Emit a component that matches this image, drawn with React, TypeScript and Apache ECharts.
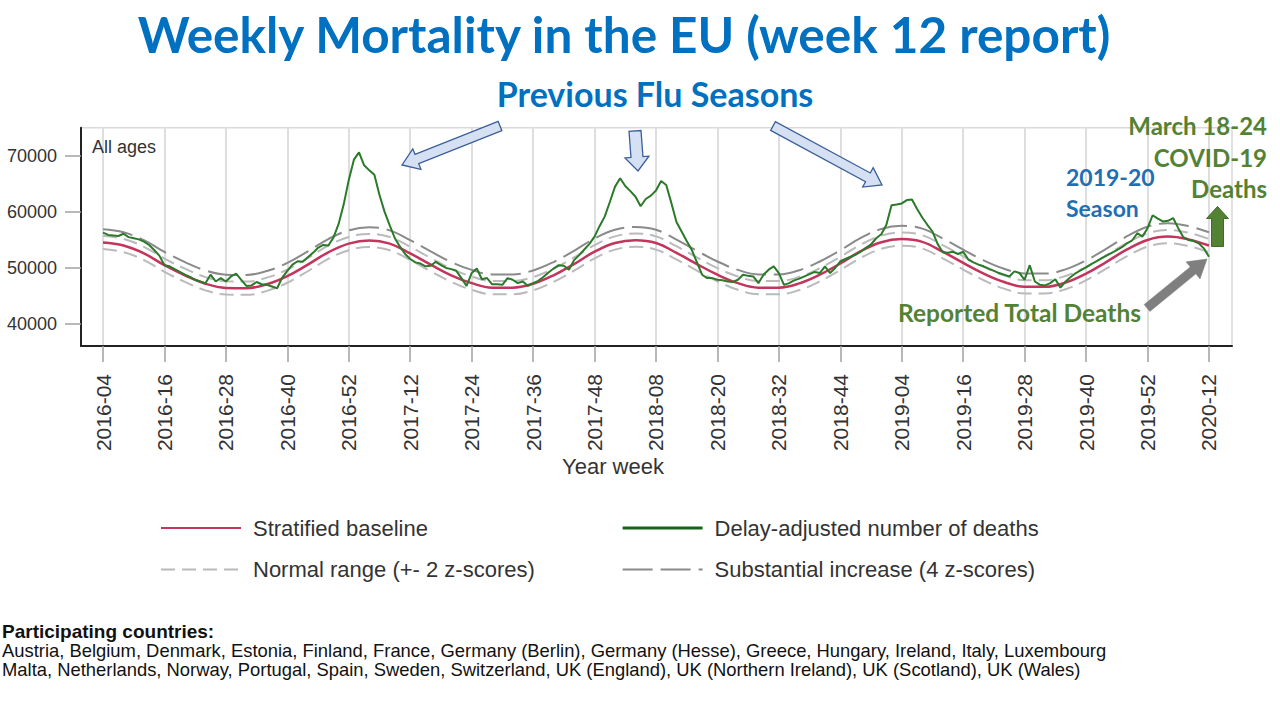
import React, { useEffect, useRef } from "react";
import * as echarts from "echarts";

// ---- data ----
const tickLabels = [
  "2016-04", "2016-16", "2016-28", "2016-40", "2016-52", "2017-12", "2017-24",
  "2017-36", "2017-48", "2018-08", "2018-20", "2018-32", "2018-44", "2019-04",
  "2019-16", "2019-28", "2019-40", "2019-52", "2020-12",
];
const WEEKS_PER_TICK = 12;

// weekly delay-adjusted deaths, 2016-04 .. 2020-12
const deaths = [
  56300, 55900, 55800, 55700, 56100, 55500, 55300, 55100, 54700, 54100, 53200, 52200,
  50500, 50300, 49800, 49300, 48800, 48400, 47900, 47600, 47300, 48800, 47600, 48200,
  47600, 48500, 49000, 47900, 46800, 46900, 47500, 47100, 47000, 46700, 46400, 48300,
  49500, 50600, 51200, 51100, 51900, 52700, 53600, 54100, 54000, 55400, 57800, 61300,
  65700, 69300, 70600, 68300, 67400, 66600, 63000, 60000, 57600, 55300, 53800, 52500,
  51600, 51000, 50800, 50300, 50400, 51100, 50500, 50000, 49800, 49500, 48200, 46800,
  49100, 49900, 48000, 48200, 47100, 47100, 47000, 48200, 47900, 47300, 47600, 46800,
  47300, 47700, 48400, 49200, 49900, 50500, 50400, 49700, 51400, 52300, 53300, 54300,
  55600, 57500, 59200, 61800, 64500, 66000, 64600, 63700, 62700, 61000, 62300, 62900,
  63800, 65500, 64800, 61600, 58200, 56500, 54800, 53200, 51000, 48800, 48200, 48200,
  47900, 47800, 47600, 47500, 47900, 48800, 48600, 48500, 47300, 48800, 49700, 50300,
  49100, 47000, 47300, 47800, 48100, 48500, 48900, 49300, 49100, 50300, 49100, 50000,
  51200, 51600, 52000, 52400, 52900, 53600, 54200, 55300, 56000, 57700, 61200, 61300,
  61500, 62100, 62200, 60500, 59000, 57700, 56500, 54300, 52800, 52700, 52900, 52500,
  52900, 51500, 51000, 50600, 50300, 49900, 49500, 49100, 48800, 48500, 49400, 49100,
  47900, 50500, 47600, 47000, 46900, 47300, 48000, 46500, 47600, 48400, 49100, 49600,
  50100, 50700, 51200, 51700, 52200, 52700, 53200, 53700, 54400, 54900, 56200, 55600,
  57100, 59400, 58800, 58300, 58400, 58900, 57100, 55500, 55000, 54800, 54400, 53500,
  52000,
];

// stratified baseline, read every 4 weeks from 2016-04
const BASELINE_STEP = 4;
const baseline = [
  54550, 54000, 52600, 50500, 48700, 47200, 46450, 46400, 47100, 48550, 50600, 52800, 54350,
  54900, 54350, 52600, 50600, 48700, 47300, 46500, 46500, 47200, 48700, 50700, 52900, 54450,
  54950, 54450, 52700, 50700, 48800, 47300, 46500, 46500, 47250, 48800, 50800, 53000, 54600,
  55150, 54650, 52900, 50900, 49000, 47500, 46650, 46650, 47400, 49000, 51100, 53300, 55000,
  55600, 55100, 54000,
];
const zScore = 590; // deaths per z-score

const yTickValues = [40000, 50000, 60000, 70000];

const legendLeft = ["Stratified baseline", "Normal range (+- 2 z-scores)"];
const legendRight = ["Delay-adjusted number of deaths", "Substantial increase (4 z-scores)"];

const countryLines = [
  "Austria, Belgium, Denmark, Estonia, Finland, France, Germany (Berlin), Germany (Hesse), Greece, Hungary, Ireland, Italy, Luxembourg",
  "Malta, Netherlands, Norway, Portugal, Spain, Sweden, Switzerland, UK (England), UK (Northern Ireland), UK (Scotland), UK (Wales)",
];

// ---- helpers for annotation shapes ----
function blockArrow(
  tail: [number, number],
  tip: [number, number],
  shaftHalf: number,
  headHalf: number,
  headLen: number
) {
  const dx = tip[0] - tail[0];
  const dy = tip[1] - tail[1];
  const len = Math.sqrt(dx * dx + dy * dy);
  const ux = dx / len;
  const uy = dy / len;
  const nx = -uy;
  const ny = ux;
  const hx = tip[0] - ux * headLen;
  const hy = tip[1] - uy * headLen;
  return [
    [tail[0] + nx * shaftHalf, tail[1] + ny * shaftHalf],
    [hx + nx * shaftHalf, hy + ny * shaftHalf],
    [hx + nx * headHalf, hy + ny * headHalf],
    [tip[0], tip[1]],
    [hx - nx * headHalf, hy - ny * headHalf],
    [hx - nx * shaftHalf, hy - ny * shaftHalf],
    [tail[0] - nx * shaftHalf, tail[1] - ny * shaftHalf],
  ];
}

const ANNOT_FONT = "Lato, 'Open Sans', sans-serif";
const CHART_FONT = "'Liberation Sans', Arial, sans-serif";

function txt(
  text: string,
  x: number,
  y: number,
  size: number,
  fill: string,
  align: string,
  bold: boolean,
  family: string
) {
  return {
    type: "text",
    x,
    y,
    z: 100,
    style: {
      text,
      fill,
      fontSize: size,
      fontWeight: bold ? "bold" : "normal",
      fontFamily: family,
      align,
      verticalAlign: "middle",
    },
  };
}

export default function App() {
  const ref = useRef<HTMLDivElement>(null);

  useEffect(() => {
    if (!ref.current) return;
    const chart = echarts.init(ref.current, undefined, { renderer: "svg" });

    const tickValues = tickLabels.map((_, k) => k * WEEKS_PER_TICK);
    const baseX = baseline.map((_, k) => k * BASELINE_STEP);

    const lightBlueArrow = { fill: "#d5e0f3", stroke: "#3b5f99", lineWidth: 1.3 };

    const legendCommon = {
      orient: "vertical",
      top: 512,
      itemWidth: 80,
      itemHeight: 22,
      itemGap: 19.5,
      selectedMode: false,
      itemStyle: { color: "transparent", borderWidth: 0, opacity: 0 },
      textStyle: { fontSize: 22, color: "#333", fontFamily: CHART_FONT, padding: [0, 0, 0, 7] },
    };

    const option: any = {
      animation: false,
      backgroundColor: "#ffffff",
      grid: {
        left: 81,
        right: 48,
        top: 127.7,
        bottom: 374,
        show: true,
        borderColor: "#d9d9d9",
        borderWidth: 1.5,
        backgroundColor: "transparent",
      },
      xAxis: {
        type: "value",
        min: -4.3,
        max: 220.5,
        axisLine: { show: true, onZero: false, lineStyle: { color: "#222", width: 2 } },
        axisTick: {
          show: true,
          customValues: tickValues,
          length: 16,
          lineStyle: { color: "#a0a0a0", width: 1.5 },
        },
        axisLabel: {
          customValues: tickValues,
          rotate: 90,
          margin: 28,
          fontSize: 21,
          fontFamily: CHART_FONT,
          color: "#333",
          formatter: (v: number) => tickLabels[Math.round(v / WEEKS_PER_TICK)] ?? "",
        },
        splitLine: { show: true, lineStyle: { color: "#dedede", width: 2 } },
      },
      yAxis: {
        type: "value",
        min: 36100,
        max: 75000,
        axisLine: { show: true, onZero: false, lineStyle: { color: "#222", width: 2 } },
        axisTick: {
          show: true,
          customValues: yTickValues,
          length: 16,
          lineStyle: { color: "#a0a0a0", width: 1.5 },
        },
        axisLabel: {
          customValues: yTickValues,
          margin: 24,
          fontSize: 18,
          fontFamily: CHART_FONT,
          color: "#333",
          formatter: (v: number) => String(v),
        },
        splitLine: { show: false },
      },
      legend: [
        { ...legendCommon, data: legendLeft, left: 155 },
        {
          ...legendCommon,
          data: [
            { name: legendRight[0], lineStyle: { width: 3.2, color: "#17631a" } },
            { name: legendRight[1] },
          ],
          left: 616,
        },
      ],
      series: [
        {
          name: legendLeft[1],
          type: "line",
          symbol: "none",
          smooth: 0.4,
          data: baseX.map((x, k) => [x, baseline[k] + 2 * zScore]),
          lineStyle: { color: "#bababa", width: 2, type: [14, 7] },
          itemStyle: { color: "#bababa" },
          z: 2,
        },
        {
          name: legendLeft[1],
          type: "line",
          symbol: "none",
          smooth: 0.4,
          data: baseX.map((x, k) => [x, baseline[k] - 2 * zScore]),
          lineStyle: { color: "#bababa", width: 2, type: [14, 7] },
          itemStyle: { color: "#bababa" },
          z: 2,
        },
        {
          name: legendRight[1],
          type: "line",
          symbol: "none",
          smooth: 0.4,
          data: baseX.map((x, k) => [x, baseline[k] + 4 * zScore]),
          lineStyle: { color: "#8a8a8a", width: 2, type: [30, 8] },
          itemStyle: { color: "#8a8a8a" },
          z: 2,
        },
        {
          name: legendLeft[0],
          type: "line",
          symbol: "none",
          smooth: 0.4,
          data: baseX.map((x, k) => [x, baseline[k]]),
          lineStyle: { color: "#c3355c", width: 2.5 },
          itemStyle: { color: "#c3355c" },
          z: 3,
        },
        {
          name: legendRight[0],
          type: "line",
          symbol: "none",
          data: deaths.map((v, i) => [i, v]),
          lineStyle: { color: "#2a7a2a", width: 2 },
          itemStyle: { color: "#2a7a2a" },
          z: 4,
        },
      ],
      graphic: [
        txt("Weekly Mortality in the EU (week 12 report)", 624, 34, 49.5, "#0070c0", "center", true, ANNOT_FONT),
        txt("Previous Flu Seasons", 655, 93, 34, "#0070c0", "center", true, ANNOT_FONT),
        txt("March 18-24", 1267, 125, 24, "#548235", "right", true, ANNOT_FONT),
        txt("COVID-19", 1267, 157, 24, "#548235", "right", true, ANNOT_FONT),
        txt("Deaths", 1267, 188, 24, "#548235", "right", true, ANNOT_FONT),
        txt("2019-20", 1066, 177, 23, "#1f6fb5", "left", true, ANNOT_FONT),
        txt("Season", 1066, 208, 23, "#1f6fb5", "left", true, ANNOT_FONT),
        txt("Reported Total Deaths", 898, 312, 24.5, "#548235", "left", true, ANNOT_FONT),
        txt("All ages", 92, 147, 18, "#333", "left", false, CHART_FONT),
        txt("Year week", 613, 466, 22, "#333", "center", false, CHART_FONT),
        txt("Participating countries:", 2, 631, 19, "#111", "left", true, CHART_FONT),
        txt(countryLines[0], 2, 650, 18.4, "#111", "left", false, CHART_FONT),
        txt(countryLines[1], 2, 669, 18.4, "#111", "left", false, CHART_FONT),
        {
          type: "polygon",
          z: 100,
          shape: { points: blockArrow([500, 126], [402, 165], 5, 11, 16) },
          style: lightBlueArrow,
        },
        {
          type: "polygon",
          z: 100,
          shape: { points: blockArrow([635, 131], [638, 171], 6, 12, 14) },
          style: lightBlueArrow,
        },
        {
          type: "polygon",
          z: 100,
          shape: { points: blockArrow([773, 126], [882, 185], 5, 11, 16) },
          style: lightBlueArrow,
        },
        {
          type: "polygon",
          z: 100,
          shape: { points: blockArrow([1217.5, 246.5], [1217.5, 206.5], 6, 11, 12) },
          style: { fill: "#548235", stroke: "#3f6a28", lineWidth: 1 },
        },
        {
          type: "polygon",
          z: 100,
          shape: { points: blockArrow([1147, 308], [1207, 259], 4.5, 11, 18) },
          style: { fill: "#7f7f7f", stroke: "#7f7f7f", lineWidth: 0.5 },
        },
      ],
    };

    chart.setOption(option);
    return () => {
      chart.dispose();
    };
  }, []);

  return (
    <div
      ref={ref}
      style={{ position: "absolute", left: 0, top: 0, width: 1280, height: 720, background: "#fff" }}
    />
  );
}
